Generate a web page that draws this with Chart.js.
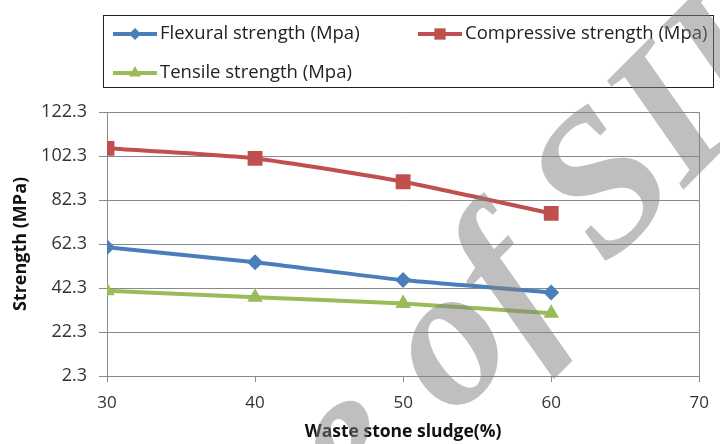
<!DOCTYPE html>
<html lang="en">
<head>
  <meta charset="UTF-8">
  <title>Strength vs waste stone sludge</title>
  <style>
    html, body {
      margin: 0;
      padding: 0;
      background: #fff;
    }
    .chart-box {
      width: 720px;
      height: 444px;
      position: relative;
    }
  </style>
</head>
<body>
  <div class="chart-box">
    <canvas id="strengthChart" width="720" height="444"></canvas>
  </div>

  <script src="https://cdn.jsdelivr.net/npm/chart.js"></script>
  <script>
    // data
    const sludge = [30, 40, 50, 60];
    const flexural = [60.8, 54.0, 45.9, 40.3];
    const compressive = [105.8, 101.2, 90.6, 76.2];
    const tensile = [41.1, 38.1, 35.3, 30.8];
    const yTicks = [2.3, 22.3, 42.3, 62.3, 82.3, 102.3, 122.3];
    const xTicks = [30, 40, 50, 60, 70];
    const seriesNames = ['Flexural strength (Mpa)', 'Compressive strength (Mpa)', 'Tensile strength (Mpa)'];

    const gridGrey = '#8a8a8a';
    const labelFont = '"Open Sans", sans-serif';

    function toPoints(vals) {
      return sludge.map((x, i) => ({ x: x, y: vals[i] }));
    }

    // legend in a box above the plot, like the Excel one
    const boxLegend = {
      id: 'boxLegend',
      afterDraw(chart) {
        const ctx = chart.ctx;
        ctx.save();
        ctx.strokeStyle = '#222';
        ctx.lineWidth = 1;
        ctx.strokeRect(103.5, 15.5, 610, 72);

        const slots = [
          { x: 113, y: 34, r: 6 },
          { x: 418, y: 34, r: 8 },
          { x: 113, y: 73, r: 7 }
        ];
        chart.data.datasets.forEach((ds, i) => {
          const s = slots[i];
          ctx.strokeStyle = ds.borderColor;
          ctx.lineWidth = 4;
          ctx.beginPath();
          ctx.moveTo(s.x, s.y);
          ctx.lineTo(s.x + 44, s.y);
          ctx.stroke();
          ctx.fillStyle = ds.backgroundColor;
          Chart.helpers.drawPoint(ctx, { pointStyle: ds.pointStyle, radius: s.r, borderWidth: 0 }, s.x + 22, s.y);
          ctx.fillStyle = '#222';
          ctx.font = '18.5px ' + labelFont;
          ctx.textBaseline = 'middle';
          ctx.textAlign = 'left';
          ctx.fillText(ds.label, s.x + 47, s.y);
        });
        ctx.restore();
      }
    };

    // grey diagonal watermark across the figure
    const watermark = {
      id: 'watermark',
      afterDraw(chart) {
        const ctx = chart.ctx;
        ctx.save();
        ctx.fillStyle = 'rgba(128,128,128,0.5)';
        ctx.font = 'italic bold 200px "Liberation Serif", serif';
        ctx.translate(453, 420);
        ctx.rotate(-45 * Math.PI / 180);
        ctx.textBaseline = 'alphabetic';
        ctx.textAlign = 'right';
        ctx.fillText('Archive ', 0, 0);
        ctx.textAlign = 'left';
        ctx.fillText('of SID', 0, 0);
        ctx.restore();
      }
    };

    const ctx = document.getElementById('strengthChart').getContext('2d');
    const strengthChart = new Chart(ctx, {
      type: 'line',
      data: {
        datasets: [
          {
            label: seriesNames[0],
            data: toPoints(flexural),
            borderColor: '#4a7ebb',
            backgroundColor: '#4a7ebb',
            pointStyle: 'rectRot',
            pointRadius: 8
          },
          {
            label: seriesNames[1],
            data: toPoints(compressive),
            borderColor: '#c0504d',
            backgroundColor: '#c0504d',
            pointStyle: 'rect',
            pointRadius: 10.5
          },
          {
            label: seriesNames[2],
            data: toPoints(tensile),
            borderColor: '#9bbb59',
            backgroundColor: '#9bbb59',
            pointStyle: 'triangle',
            pointRadius: 9
          }
        ]
      },
      options: {
        responsive: false,
        animation: false,
        devicePixelRatio: 1,
        layout: {
          padding: { top: 112, right: 13, bottom: 0, left: 0 }
        },
        elements: {
          line: { borderWidth: 4, tension: 0.2 },
          point: { borderWidth: 0, hoverRadius: 8 }
        },
        plugins: {
          legend: { display: false },
          tooltip: { enabled: false }
        },
        scales: {
          x: {
            type: 'linear',
            min: 30,
            max: 70,
            afterFit(scale) { scale.height = 68; },
            afterBuildTicks(scale) { scale.ticks = xTicks.map(v => ({ value: v })); },
            grid: {
              drawOnChartArea: true,
              color: c => (c.tick && c.tick.value === 70 ? gridGrey : 'rgba(0,0,0,0)'),
              tickColor: gridGrey,
              tickLength: 6
            },
            border: { display: true, color: gridGrey },
            ticks: {
              padding: 11,
              color: '#333',
              font: { family: labelFont, size: 17 }
            },
            title: {
              display: true,
              text: 'Waste stone sludge(%)',
              color: '#111',
              font: { family: labelFont, size: 17.5, weight: 'bold' },
              padding: { top: 0, bottom: 1 }
            }
          },
          y: {
            min: 2.3,
            max: 122.3,
            afterFit(scale) { scale.width = 107; },
            afterBuildTicks(scale) { scale.ticks = yTicks.map(v => ({ value: v })); },
            grid: {
              color: gridGrey,
              tickColor: gridGrey,
              tickLength: 8
            },
            border: { display: true, color: gridGrey },
            ticks: {
              padding: 12,
              color: '#333',
              font: { family: labelFont, size: 18 },
              callback: v => v.toFixed(1)
            },
            title: {
              display: true,
              text: 'Strength (MPa)',
              color: '#111',
              font: { family: labelFont, size: 18, weight: 'bold' },
              padding: { top: 10, bottom: 0 }
            }
          }
        }
      },
      plugins: [boxLegend, watermark]
    });
  </script>
</body>
</html>
